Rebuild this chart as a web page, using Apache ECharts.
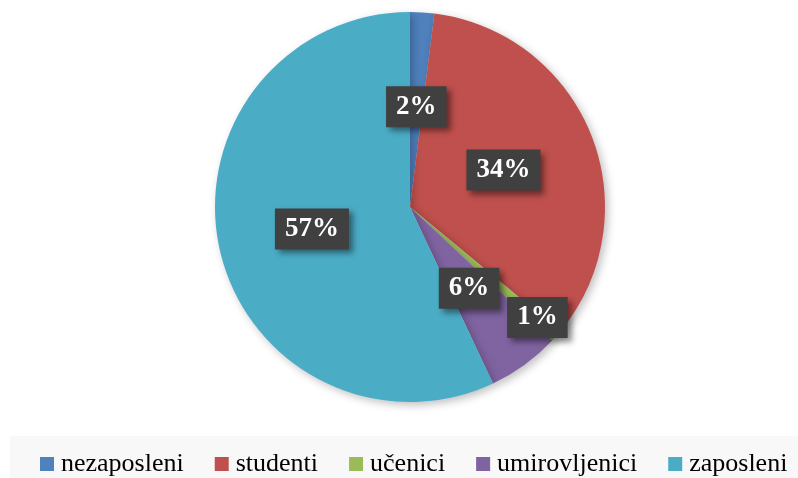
<!DOCTYPE html>
<html>
<head>
<meta charset="utf-8">
<script src="https://cdn.jsdelivr.net/npm/echarts@6/dist/echarts.min.js"></script>
<style>
  html, body { margin: 0; padding: 0; background: #fff; }
  #chart { width: 798px; height: 478px; }
</style>
</head>
<body>
<div id="chart"></div>
<script>
  const categories = ['nezaposleni', 'studenti', 'učenici', 'umirovljenici', 'zaposleni']
  const shares = [2, 34, 1, 6, 57]
  const colors = ['#4F81BD', '#C0504D', '#9BBB59', '#8064A2', '#4BACC6']

  const chart = echarts.init(document.getElementById('chart'))

  const option = {
    animation: false,
    color: colors,
    // light grey band behind the legend
    graphic: [
      { type: 'rect', z: -1, shape: { x: 10, y: 436, width: 788, height: 42 }, style: { fill: '#F8F8F8' } }
    ],
    legend: {
      left: 35,
      top: 445,
      icon: 'rect',
      itemWidth: 14,
      itemHeight: 14,
      itemGap: 31,
      selectedMode: false,
      textStyle: {
        fontFamily: 'Liberation Serif',
        fontSize: 26,
        lineHeight: 28,
        color: '#000',
        padding: [0, 0, 0, 2]
      },
      data: categories
    },
    series: [
      {
        type: 'pie',
        center: [410, 207],
        radius: 195,
        startAngle: 90,
        clockwise: true,
        emphasis: { disabled: true },
        itemStyle: {
          shadowBlur: 8,
          shadowOffsetX: 3,
          shadowOffsetY: 3,
          shadowColor: 'rgba(0,0,0,0.25)'
        },
        label: {
          position: 'inside',
          formatter: p => Math.round(p.percent) + '%',
          color: '#fff',
          fontFamily: 'Liberation Serif',
          fontWeight: 'bold',
          fontSize: 27,
          backgroundColor: '#404040',
          padding: [7, 10],
          shadowBlur: 6,
          shadowOffsetX: 4,
          shadowOffsetY: 4,
          shadowColor: 'rgba(0,0,0,0.45)'
        },
        labelLine: { show: false },
        // the tiny učenici slice has its label pushed outward
        labelLayout: params => params.dataIndex === 2 ? { dx: 52, dy: 44 } : {},
        data: categories.map((name, i) => ({ name: name, value: shares[i] }))
      }
    ]
  }

  chart.setOption(option)
</script>
</body>
</html>
